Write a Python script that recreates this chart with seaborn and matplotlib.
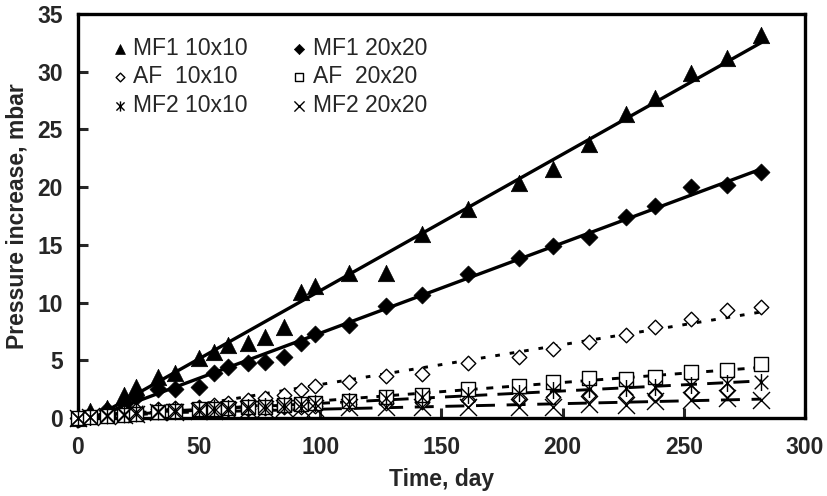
import numpy as np
import matplotlib
matplotlib.use("Agg")
import matplotlib.pyplot as plt
from matplotlib.path import Path
import seaborn as sns

# ---------------- data ----------------
days = [0, 5, 12, 19, 24, 33, 40, 50, 56, 62, 70, 77, 85, 92, 98, 112, 127,
        142, 161, 182, 196, 211, 226, 238, 253, 268, 282]
mf1_10 = [0, 0.6, 0.9, 2.0, 2.7, 3.6, 3.9, 5.2, 5.7, 6.3, 6.5, 7.0, 7.9, 10.9,
          11.4, 12.6, 12.6, 15.9, 18.1, 20.4, 21.6, 23.7, 26.3, 27.7, 29.9, 31.2, 33.2]
mf1_20 = [0, 0.3, 0.7, 1.2, 1.8, 2.5, 2.5, 2.7, 3.9, 4.4, 4.8, 4.9, 5.3, 6.5,
          7.3, 8.1, 9.7, 10.7, 12.5, 13.9, 14.9, 15.7, 17.4, 18.4, 20.0, 20.2, 21.3]
af_10 = [0, 0.1, 0.3, 0.5, 0.7, 0.8, 0.9, 1.0, 1.1, 1.3, 1.55, 1.7, 2.0, 2.4,
         2.8, 3.1, 3.65, 3.8, 4.75, 5.3, 6.0, 6.6, 7.2, 7.85, 8.6, 9.4, 9.65]
af_20 = [0, 0.1, 0.2, 0.3, 0.4, 0.5, 0.6, 0.75, 0.8, 0.85, 0.95, 1.0, 1.1, 1.2,
         1.3, 1.5, 1.85, 2.0, 2.5, 2.8, 3.1, 3.45, 3.4, 3.6, 4.0, 4.15, 4.65]
mf2_10 = [0, 0.1, 0.3, 0.4, 0.5, 0.6, 0.7, 0.8, 0.85, 0.9, 1.0, 1.05, 1.1, 1.2,
          1.3, 1.5, 1.7, 1.8, 2.0, 2.2, 2.4, 2.5, 2.6, 2.7, 2.85, 3.0, 3.1]
mf2_20 = [0, 0.1, 0.2, 0.3, 0.4, 0.5, 0.55, 0.6, 0.65, 0.7, 0.75, 0.8, 0.85, 0.9,
          0.9, 0.95, 1.0, 1.0, 1.0, 1.0, 1.0, 1.2, 1.15, 1.5, 1.6, 1.7, 1.6]
# unlabeled open-diamond points that appear in the lower cluster
extra_days = days[:-1]
extra_vals = [0, 0.1, 0.2, 0.3, 0.4, 0.5, 0.55, 0.6, 0.7, 0.75, 0.8, 0.9, 0.95, 1.0,
              1.05, 1.2, 1.35, 1.4, 1.55, 1.7, 1.85, 2.0, 1.9, 2.0, 2.3, 2.45]

labels = ["MF1 10x10", "MF1 20x20", "AF  10x10", "AF  20x20", "MF2 10x10", "MF2 20x20"]
x_ticks = [0, 50, 100, 150, 200, 250, 300]
y_ticks = [0, 5, 10, 15, 20, 25, 30, 35]

# ---------------- style ----------------
sns.set_style("white")
plt.rcParams["font.family"] = ["Liberation Sans", "DejaVu Sans"]

fig = plt.figure(figsize=(8.27, 4.96), dpi=100)
ax = fig.add_axes([0.0943, 0.157, 0.879, 0.815])

# asterisk marker: X plus vertical bar
ast = Path([(0, -1), (0, 1), (-0.8, -0.8), (0.8, 0.8), (-0.8, 0.8), (0.8, -0.8)],
           [Path.MOVETO, Path.LINETO, Path.MOVETO, Path.LINETO, Path.MOVETO, Path.LINETO])

series = [
    (mf1_10, labels[0], "^", 140, "black", "black", 0.5, "-"),
    (mf1_20, labels[1], "D", 75, "black", "black", 0.5, "-"),
    (af_10, labels[2], "D", 55, "white", "black", 1.0, (0, (1.6, 3.4))),
    (af_20, labels[3], "s", 95, "white", "black", 1.0, (0, (2.4, 3.0))),
    (mf2_10, labels[4], ast, 150, "black", "black", 1.0, (0, (5.5, 3.5))),
    (mf2_20, labels[5], "x", 150, "black", None, 1.0, (0, (6.5, 4.0))),
]

fit_x = np.array([0, days[-1]])
for vals, lab, mk, size, fc, ec, lw, ls in series:
    slope, icpt = np.polyfit(days, vals, 1)
    sns.lineplot(x=fit_x, y=slope * fit_x + icpt, ax=ax, color="black",
                 linewidth=2.4 if ls == "-" else 2.1, linestyle=ls,
                 errorbar=None, zorder=2, clip_on=False)

sns.scatterplot(x=extra_days, y=extra_vals, ax=ax, marker="D", s=55,
                color="white", edgecolor="black", linewidth=1.0, zorder=3, clip_on=False)

for vals, lab, mk, size, fc, ec, lw, ls in series:
    kw = dict(x=days, y=vals, ax=ax, marker=mk, s=size, color=fc,
              linewidth=lw, label=lab, zorder=4, clip_on=False)
    if ec is not None:
        kw["edgecolor"] = ec
    sns.scatterplot(**kw)

ax.set_xlim(0, 300)
ax.set_ylim(0, 35)
ax.set_xticks(x_ticks)
ax.set_yticks(y_ticks)
ax.tick_params(direction="in", length=7, width=2.2, labelsize=16.5, pad=11,
               top=False, right=False, left=True, bottom=True)
ax.tick_params(axis="x", pad=13)
for t in ax.get_xticklabels() + ax.get_yticklabels():
    t.set_fontweight("bold")
for sp in ax.spines.values():
    sp.set_linewidth(2.4)
    sp.set_color("black")

ax.set_xlabel("Time, day", fontsize=16.5, fontweight="bold", labelpad=6)
ax.set_ylabel("Pressure increase, mbar", fontsize=16.5, fontweight="bold", labelpad=6)

handles, labs = ax.get_legend_handles_labels()
hmap = dict(zip(labs, handles))
order = [labels[0], labels[2], labels[4], labels[1], labels[3], labels[5]]
ax.legend([hmap[l] for l in order], order, ncol=2, frameon=False,
          loc="upper left", bbox_to_anchor=(0.013, 0.995), fontsize=16.5,
          markerscale=0.6, handletextpad=0.1, columnspacing=1.75,
          labelspacing=0.25, handlelength=1.0)

fig.savefig("out.png", dpi=100)
